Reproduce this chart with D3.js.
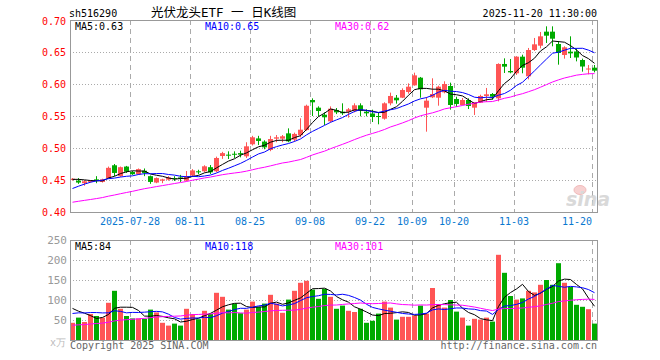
<!DOCTYPE html>
<html><head><meta charset="utf-8">
<script src="https://cdn.jsdelivr.net/npm/d3@7"></script>
<style>
body{margin:0;background:#fff}
svg{display:block}
text{font-family:"DejaVu Sans Mono",monospace;font-size:10px}
</style>
</head><body>
<svg id="c" width="660" height="360"></svg>
<script>
// ---- data ----
const dates = [
"2025-07-14","2025-07-15","2025-07-16","2025-07-17","2025-07-18","2025-07-21","2025-07-22","2025-07-23","2025-07-24","2025-07-25",
"2025-07-28","2025-07-29","2025-07-30","2025-07-31","2025-08-01","2025-08-04","2025-08-05","2025-08-06","2025-08-07","2025-08-08",
"2025-08-11","2025-08-12","2025-08-13","2025-08-14","2025-08-15","2025-08-18","2025-08-19","2025-08-20","2025-08-21","2025-08-22",
"2025-08-25","2025-08-26","2025-08-27","2025-08-28","2025-08-29","2025-09-01","2025-09-02","2025-09-03","2025-09-04","2025-09-05",
"2025-09-08","2025-09-09","2025-09-10","2025-09-11","2025-09-12","2025-09-15","2025-09-16","2025-09-17","2025-09-18","2025-09-19",
"2025-09-22","2025-09-23","2025-09-24","2025-09-25","2025-09-26","2025-09-29","2025-09-30","2025-10-09","2025-10-10","2025-10-13",
"2025-10-14","2025-10-15","2025-10-16","2025-10-17","2025-10-20","2025-10-21","2025-10-22","2025-10-23","2025-10-24","2025-10-27",
"2025-10-28","2025-10-29","2025-10-30","2025-10-31","2025-11-03","2025-11-04","2025-11-05","2025-11-06","2025-11-07","2025-11-10",
"2025-11-11","2025-11-12","2025-11-13","2025-11-14","2025-11-17","2025-11-18","2025-11-19","2025-11-20"];

const open = [
.450,.449,.445,.447,.451,.447,.453,.473,.456,.471,
.4625,.459,.4645,.456,.446,.449,.4505,.453,.454,.449,
.457,.4636,.4636,.470,.4636,.4875,.4896,.491,.492,.487,
.5058,.515,.510,.497,.5146,.5146,.5229,.513,.520,.528,
.575,.563,.552,.5417,.5594,.5567,.5567,.5578,.5667,.5568,
.5539,.550,.5458,.5698,.5786,.5786,.5875,.5979,.6099,.563,
.5792,.5786,.587,.5969,.5766,.5672,.575,.563,.5708,.5813,
.5844,.5776,.6313,.6203,.6167,.6427,.612,.6531,.6599,.6818,
.6818,.6625,.6453,.6505,.6508,.6375,.6229,.6255];
const high = [
.453,.453,.450,.450,.456,.452,.471,.475,.471,.472,
.464,.468,.468,.457,.454,.452,.456,.456,.458,.464,
.467,.466,.473,.4734,.4865,.494,.4948,.4948,.4958,.509,
.519,.519,.512,.519,.5203,.5203,.5307,.524,.5464,.5677,
.5776,.5651,.5557,.565,.5625,.5698,.5625,.5698,.5698,.5604,
.5599,.5557,.5714,.5865,.5828,.5932,.601,.6177,.611,.5797,
.6089,.5974,.6042,.6021,.5802,.5781,.5776,.5714,.5833,.5938,
.5859,.6323,.6401,.6391,.6435,.6458,.6563,.6719,.6813,.6901,
.6901,.6672,.6589,.6745,.6557,.6396,.6297,.6297];
const low = [
.449,.444,.441,.446,.445,.446,.452,.456,.455,.461,
.458,.458,.456,.444,.445,.445,.449,.4485,.447,.448,
.455,.459,.462,.4594,.462,.483,.4828,.4844,.4854,.4844,
.504,.5047,.498,.495,.509,.509,.509,.510,.5167,.527,
.550,.5495,.536,.540,.553,.5516,.5474,.5557,.5495,.5495,
.5406,.537,.5443,.5667,.5693,.578,.5849,.5974,.5786,.5255,
.578,.5661,.5854,.5599,.5641,.5667,.5609,.5516,.5703,.5719,
.5755,.5729,.6172,.6167,.6141,.6167,.6073,.6516,.6557,.6641,
.6589,.6302,.6396,.6406,.6354,.6193,.6151,.6182];
const close = [
.452,.446,.448,.449,.449,.451,.469,.461,.470,.463,
.459,.467,.461,.447,.453,.451,.454,.4515,.452,.4555,
.465,.462,.4714,.462,.4844,.492,.488,.4896,.4896,.5026,
.5167,.511,.501,.514,.5167,.5183,.5104,.522,.5286,.566,
.5714,.5578,.548,.5614,.5557,.5542,.5604,.5667,.5583,.5542,
.5484,.5484,.5698,.5813,.5745,.5906,.5958,.6135,.5917,.574,
.5844,.5958,.600,.5672,.5688,.575,.5656,.5714,.5813,.5839,
.5802,.6313,.6271,.6182,.6427,.6255,.6531,.6620,.6745,.6755,
.6708,.6484,.6573,.6479,.6414,.6273,.6242,.6208];
const volume = [
43,56,45,65,60,56,93,123,78,60,
54,54,53,76,69,43,36,41,36,78,
65,52,73,65,118,108,76,91,67,76,
96,83,91,113,91,68,101,123,143,148,
126,103,128,108,78,86,73,70,78,43,
48,66,96,81,51,58,58,61,86,66,
130,90,81,100,71,56,36,53,51,56,
46,213,168,110,101,104,123,119,138,150,
138,192,143,133,88,83,77,41];
// sessions before the visible window (estimated from where the MA lines start)
const prevClose = [.402,.405,.408,.406,.403,.404,.407,.409,.406,.405,
.403,.401,.399,.402,.404,.406,.403,.405,.407,.4065,
.410,.415,.420,.428,.439,.446,.452,.454,.451];
const prevVolume = [22,25,20,26,24,28,23,21,27,24,
18,21,19,22,20,17,23,19,21,20,
40,48,55,60,65,91,70,95,96];

const priceTicks = [0.40,0.45,0.50,0.55,0.60,0.65,0.70];
const volTicks = [0,50,100,150,200,250];
const tickDates = ["2025-07-28","2025-08-11","2025-08-25","2025-09-08","2025-09-22","2025-10-09","2025-10-20","2025-11-03","2025-11-20"];
const tickLabels = ["2025-07-28","08-11","08-25","09-08","09-22","10-09","10-20","11-03","11-20"];
const maPeriods = [5,10,30];
const maColors = ["#000000","#0000ff","#ff00ff"];

// ---- layout ----
const L=70, R=597, pT=20, pB=212, vT=240, vB=340;
const RED="#ff5555", GREEN="#00aa00";
const svg = d3.select("#c");

const x = d3.scaleBand().domain(dates).range([L,R]).paddingInner(1/6).paddingOuter(0);
const bw = x.bandwidth();
const cx = d => x(d) + bw/2;
const y = d3.scaleLinear().domain([0.40,0.70]).range([pB,pT]);
const yv = d3.scaleLinear().domain([0,250]).range([vB,vT]);

function movingAvg(prev, vals, n){
  const all = prev.concat(vals), off = prev.length;
  return vals.map((v,i)=> d3.mean(all.slice(off+i-n+1, off+i+1)));
}
const priceMA = maPeriods.map(n=>movingAvg(prevClose, close, n));
const volMA = maPeriods.map(n=>movingAvg(prevVolume, volume, n));

// ---- grid ----
const g = svg.append("g");
g.selectAll(".hp").data(priceTicks.slice(1,-1)).join("line")
  .attr("x1",L).attr("x2",R).attr("y1",d=>Math.round(y(d))+0.5).attr("y2",d=>Math.round(y(d))+0.5)
  .attr("stroke","#aaa").attr("stroke-dasharray","1,2");
g.selectAll(".hv").data(volTicks.slice(1,-1)).join("line")
  .attr("x1",L).attr("x2",R).attr("y1",d=>Math.round(yv(d))+0.5).attr("y2",d=>Math.round(yv(d))+0.5)
  .attr("stroke","#aaa").attr("stroke-dasharray","1,2");
tickDates.forEach(d=>{
  const xx = x(d)+0.5;
  [[pT,pB],[vT,vB]].forEach(([a,b])=>{
    g.append("line").attr("x1",xx).attr("x2",xx).attr("y1",a).attr("y2",b)
     .attr("stroke","#aaa").attr("stroke-dasharray","5,4");
  });
});

// watermark
const wm = svg.append("g").attr("opacity",0.8);
wm.append("ellipse").attr("cx",580).attr("cy",190).attr("rx",6).attr("ry",4.5)
  .attr("fill","#f6c6c6").attr("stroke","#eaa").attr("stroke-width",1);
wm.append("text").attr("x",566).attr("y",206).text("sina")
  .style("font-family","DejaVu Sans").style("font-size","19px").style("font-weight","bold")
  .style("font-style","italic").attr("fill","#d0d0d0");

// ---- candles ----
const cg = svg.append("g");
dates.forEach((d,i)=>{
  const up = close[i] >= open[i];
  const col = up ? RED : GREEN;
  const xc = Math.round(x(d)) + 2.5;
  cg.append("line").attr("x1",xc).attr("x2",xc)
    .attr("y1",y(high[i])).attr("y2",y(low[i])).attr("stroke",col).attr("stroke-width",1);
  const top = y(Math.max(open[i],close[i])), bot = y(Math.min(open[i],close[i]));
  cg.append("rect").attr("x",Math.round(x(d))).attr("y",top)
    .attr("width",bw).attr("height",Math.max(1,bot-top)).attr("fill",col);
});

// ---- volume bars ----
svg.append("g").selectAll("rect").data(dates).join("rect")
  .attr("x",d=>Math.round(x(d))).attr("width",bw)
  .attr("y",(d,i)=>yv(volume[i])).attr("height",(d,i)=>vB-yv(volume[i]))
  .attr("fill",(d,i)=> close[i]>=open[i] ? RED : GREEN);

// ---- MA lines ----
const line = d3.line().x((v,i)=>cx(dates[i]));
priceMA.forEach((arr,k)=>{
  svg.append("path").attr("d",line.y(v=>y(v))(arr))
    .attr("fill","none").attr("stroke",maColors[k]).attr("stroke-width",1);
});
volMA.forEach((arr,k)=>{
  svg.append("path").attr("d",line.y(v=>yv(v))(arr))
    .attr("fill","none").attr("stroke",maColors[k]).attr("stroke-width",1);
});

// ---- borders ----
[[pT,pB],[vT,vB]].forEach(([a,b])=>{
  svg.append("rect").attr("x",L+0.5).attr("y",a+0.5).attr("width",R-L).attr("height",b-a)
    .attr("fill","none").attr("stroke","#999").attr("stroke-width",1);
});

// ---- axis labels ----
svg.append("g").selectAll("text").data(priceTicks).join("text")
  .attr("x",66).attr("y",d=>y(d)+ (d===0.70?5:3.5)).attr("text-anchor","end")
  .attr("fill","#ff0000").text(d=>d.toFixed(2));
svg.append("g").selectAll("text").data(volTicks.slice(1)).join("text")
  .attr("x",67).attr("y",d=>yv(d)+3.5).attr("text-anchor","end")
  .attr("fill","#999").style("font-size","11px").text(d=>d);
svg.append("text").attr("x",50).attr("y",346).attr("fill","#bbb").text("x万");

tickDates.forEach((d,j)=>{
  const lbl = tickLabels[j];
  const w = lbl.length*6.02;
  let xx = x(d);
  if (xx + w/2 > R-5) xx = R-5 - w/2;
  svg.append("text").attr("x",xx).attr("y",225).attr("text-anchor","middle")
    .attr("fill","#0a78d0").text(lbl);
});

// ---- header texts ----
svg.append("text").attr("x",69).attr("y",17).attr("fill","#000").text("sh516290");
svg.append("text").attr("x",151).attr("y",17).attr("fill","#000")
  .style("font-family","'DejaVu Sans Mono','Noto Sans CJK SC'").style("font-size","12.5px")
  .text("光伏龙头ETF 一 日K线图");
svg.append("text").attr("x",597).attr("y",17).attr("text-anchor","end").attr("fill","#000")
  .text("2025-11-20 11:30:00");

const pLast = priceMA.map(a=>a[a.length-1]);
const vLast = volMA.map(a=>a[a.length-1]);
const maX = [75,205,335];
maPeriods.forEach((n,k)=>{
  svg.append("text").attr("x",maX[k]).attr("y",30).attr("fill",maColors[k])
    .text("MA"+n+":"+pLast[k].toFixed(2));
  svg.append("text").attr("x",maX[k]).attr("y",250).attr("fill",maColors[k])
    .text("MA"+n+":"+Math.round(vLast[k]));
});

svg.append("text").attr("x",70).attr("y",349).attr("fill","#666").text("Copyright 2025 SINA.COM");
svg.append("text").attr("x",597).attr("y",349).attr("text-anchor","end").attr("fill","#666").text("http://finance.sina.com.cn");
</script>
</body></html>
